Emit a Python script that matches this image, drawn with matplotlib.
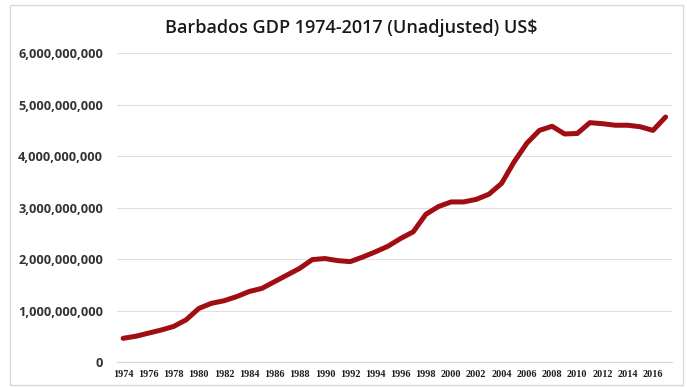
import matplotlib.pyplot as plt
from matplotlib.ticker import FuncFormatter
from matplotlib.patches import Rectangle

years = list(range(1974, 2018))
gdp_billions = [
    0.46, 0.50, 0.56, 0.62, 0.69, 0.82, 1.04, 1.14, 1.19, 1.27,
    1.37, 1.43, 1.56, 1.69, 1.82, 1.99, 2.01, 1.97, 1.95, 2.04,
    2.14, 2.25, 2.40, 2.53, 2.87, 3.02, 3.11, 3.11, 3.16, 3.26,
    3.47, 3.89, 4.25, 4.50, 4.58, 4.43, 4.44, 4.65, 4.63, 4.60,
    4.60, 4.57, 4.50, 4.76,
]
gdp = [v * 1e9 for v in gdp_billions]
tick_labels = [str(y) for y in years[::2]]

fig = plt.figure(figsize=(6.87, 3.87), dpi=100)
fig.patches.append(Rectangle((0.014, 0.006), 0.98, 0.982, transform=fig.transFigure,
                             fill=False, edgecolor="#d9d9d9", linewidth=1))

ax = fig.add_axes([0.170, 0.0646, 0.808, 0.798])
x = list(range(len(years)))
ax.plot(x, gdp, color="#a00d12", linewidth=3.6, solid_capstyle="round")

ax.set_xlim(-0.5, len(years) - 0.5)
ax.set_ylim(0, 6e9)
ax.set_yticks([i * 1e9 for i in range(7)])
ax.yaxis.set_major_formatter(FuncFormatter(lambda v, p: f"{int(v):,}"))
ax.set_xticks(x[::2])
ax.set_xticklabels(tick_labels, family="Liberation Serif", fontsize=7.4,
                   color="#1f1f1f", fontweight="bold")
for lab in ax.get_yticklabels():
    lab.set_fontweight("bold")
    lab.set_fontsize(9.2)
    lab.set_color("#333333")
    lab.set_family("Open Sans")

ax.grid(axis="y", color="#e0e0e0", linewidth=0.8)
ax.set_axisbelow(True)
for s in ["top", "right", "left"]:
    ax.spines[s].set_visible(False)
ax.spines["bottom"].set_color("#d9d9d9")
ax.tick_params(axis="both", length=0)
ax.tick_params(axis="y", pad=10)
ax.tick_params(axis="x", pad=6)

fig.text(0.511, 0.928, "Barbados GDP 1974-2017 (Unadjusted) US$", ha="center", va="center",
         fontsize=13, family="Open Sans", fontweight="semibold", color="#1a1a1a")

fig.savefig("out.png", dpi=100)
